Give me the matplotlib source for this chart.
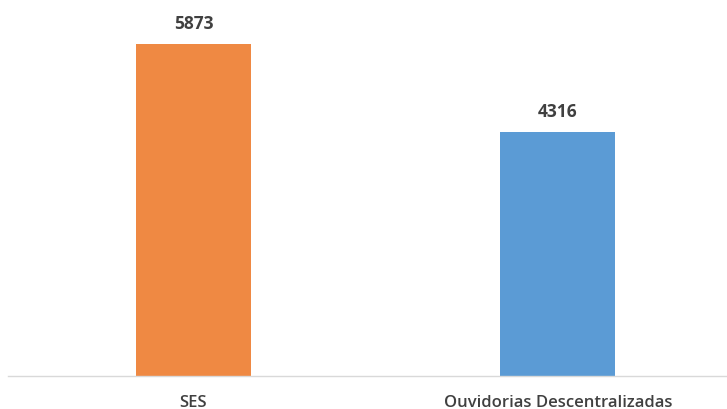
import matplotlib.pyplot as plt

categorias = ['SES', 'Ouvidorias Descentralizadas']
valores = [5873, 4316]
cores = ['#EF8943', '#5B9BD5']

plt.rcParams['font.family'] = ['Open Sans', 'DejaVu Sans']

fig = plt.figure(figsize=(7.27, 4.10), dpi=100)
ax = fig.add_axes([8 / 727, 33 / 410, 1 - 8 / 727, 1 - 33 / 410])

x = range(len(categorias))
barras = ax.bar(x, valores, width=0.3155, color=cores)

# rótulos de valor acima das barras
for b, v in zip(barras, valores):
    ax.annotate(str(v), (b.get_x() + b.get_width() / 2, v),
                xytext=(0, 9), textcoords='offset points',
                ha='center', va='bottom', fontsize=12.5,
                fontweight='bold', color='#404040')

ax.set_xlim(-0.509, 1.464)
ax.set_ylim(0, 6670)
ax.set_xticks(list(x))
ax.set_xticklabels(categorias, fontsize=12, fontweight='semibold', color='#404040')
ax.tick_params(axis='x', length=0, pad=13)
ax.set_yticks([])

for lado in ['top', 'right', 'left']:
    ax.spines[lado].set_visible(False)
ax.spines['bottom'].set_color('#D9D9D9')
ax.spines['bottom'].set_linewidth(1)

fig.savefig('out.png', dpi=100)
